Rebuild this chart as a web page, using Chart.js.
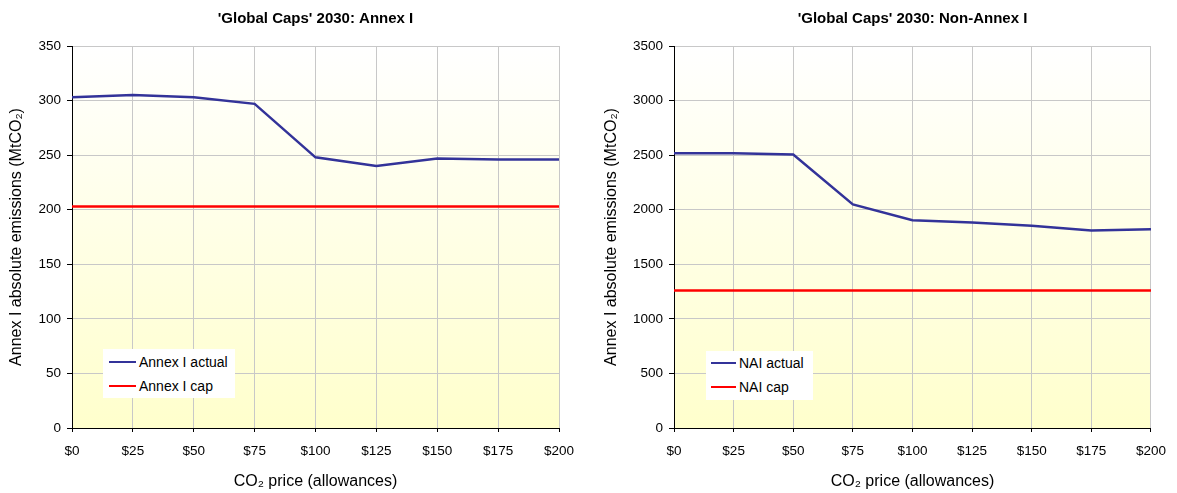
<!DOCTYPE html>
<html>
<head>
<meta charset="utf-8">
<script src="https://cdn.jsdelivr.net/npm/chart.js@4/dist/chart.umd.min.js"></script>
<style>
  body { margin: 0; background: #fff; }
  .wrap { position: absolute; top: 0; height: 493px; }
  .legend { position: absolute; background: #fff; font: 14px "Liberation Sans", Arial, sans-serif; color: #000; }
  .legend .row { position: absolute; left: 0; height: 16px; line-height: 16px; white-space: nowrap; }
  .legend .swatch { position: absolute; top: 7px; height: 2px; }
  .legend .txt { position: absolute; top: 0; }
</style>
</head>
<body>
<div class="wrap" id="leftWrap" style="left:0;width:588px">
  <canvas id="annex" width="588" height="493"></canvas>
</div>
<div class="wrap" id="rightWrap" style="left:588px;width:589px">
  <canvas id="nonannex" width="589" height="493"></canvas>
</div>
<script>
// CO2 price categories
const prices = ['$0', '$25', '$50', '$75', '$100', '$125', '$150', '$175', '$200']

// Annex I (MtCO2)
const annexActual = [303, 305, 303, 297, 248, 240, 247, 246, 246]
const annexCap = [203, 203, 203, 203, 203, 203, 203, 203, 203]

// Non-Annex I (MtCO2)
const naiActual = [2518, 2518, 2506, 2049, 1904, 1883, 1853, 1810, 1822]
const naiCap = [1260, 1260, 1260, 1260, 1260, 1260, 1260, 1260, 1260]

const BLUE = '#333399'
const RED = '#ff0000'
const FONT = '"Liberation Sans", Arial, sans-serif'

// yellow fade behind the plot area
const plotBg = {
    id: 'plotBg',
    beforeDraw(chart){
        const a = chart.chartArea
        const ctx = chart.ctx
        const g = ctx.createLinearGradient(0, a.top, 0, a.bottom)
        g.addColorStop(0, '#ffffff')
        g.addColorStop(1, '#ffffcc')
        ctx.save()
        ctx.fillStyle = g
        ctx.fillRect(a.left, a.top, a.right - a.left, a.bottom - a.top)
        ctx.restore()
    }
}

function makeChart(id, title, actual, cap, labels, yMax, yStep, yWidth, yTitlePad, padRight){
    return new Chart(document.getElementById(id).getContext('2d'), {
        type: 'line',
        data: {
            labels: prices,
            datasets: [
                {
                    label: labels[0],
                    data: actual,
                    borderColor: BLUE,
                    backgroundColor: BLUE,
                    borderWidth: 2.5,
                    pointRadius: 0,
                    tension: 0
                },
                {
                    label: labels[1],
                    data: cap,
                    borderColor: RED,
                    backgroundColor: RED,
                    borderWidth: 2.5,
                    pointRadius: 0,
                    tension: 0
                }
            ]
        },
        options: {
            responsive: false,
            animation: false,
            layout: { padding: { left: 0, right: padRight, top: 0, bottom: 0 } },
            plugins: {
                legend: { display: false },
                tooltip: { enabled: false },
                title: {
                    display: true,
                    text: title,
                    fullSize: false,
                    color: '#000',
                    font: { family: FONT, size: 15, weight: 'bold' },
                    padding: { top: 10, bottom: 18 }
                }
            },
            scales: {
                x: {
                    afterFit: s => { s.height = 65 },
                    grid: { color: '#c8c8c8', tickColor: '#000', tickLength: 4 },
                    border: { color: '#000', width: 1 },
                    ticks: { color: '#000', padding: 11, maxRotation: 0, autoSkip: false, font: { family: FONT, size: 13.5 } },
                    title: {
                        display: true,
                        text: 'CO₂ price (allowances)',
                        color: '#000',
                        font: { family: FONT, size: 16 },
                        padding: { top: 0, bottom: 2 }
                    }
                },
                y: {
                    min: 0,
                    max: yMax,
                    afterFit: s => { s.width = yWidth },
                    grid: { color: '#c8c8c8', tickColor: '#000', tickLength: 5 },
                    border: { color: '#000', width: 1 },
                    ticks: {
                        stepSize: yStep,
                        color: '#000',
                        padding: 6,
                        font: { family: FONT, size: 13.5 },
                        callback: v => String(v)
                    },
                    title: {
                        display: true,
                        text: 'Annex I absolute emissions (MtCO₂)',
                        color: '#000',
                        font: { family: FONT, size: 16 },
                        padding: { top: yTitlePad, bottom: 0 }
                    }
                }
            }
        },
        plugins: [plotBg]
    })
}

// legend box placed inside the plot, like the original
function addLegend(wrapId, chart, box){
    const wrap = document.getElementById(wrapId)
    const div = document.createElement('div')
    div.className = 'legend'
    div.style.left = box.x + 'px'
    div.style.top = box.y + 'px'
    div.style.width = box.w + 'px'
    div.style.height = box.h + 'px'
    chart.data.datasets.forEach((ds, i) => {
        const row = document.createElement('div')
        row.className = 'row'
        row.style.top = (box.rowTop + i * 24) + 'px'
        const sw = document.createElement('div')
        sw.className = 'swatch'
        sw.style.left = box.swX + 'px'
        sw.style.width = box.swW + 'px'
        sw.style.background = ds.borderColor
        const t = document.createElement('span')
        t.className = 'txt'
        t.style.left = (box.swX + box.swW + 3) + 'px'
        t.textContent = ds.label
        row.appendChild(sw)
        row.appendChild(t)
        div.appendChild(row)
    })
    wrap.appendChild(div)
}

const annexChart = makeChart('annex', "'Global Caps' 2030: Annex I", annexActual, annexCap,
    ['Annex I actual', 'Annex I cap'], 350, 50, 72, 7, 29)
const naiChart = makeChart('nonannex', "'Global Caps' 2030: Non-Annex I", naiActual, naiCap,
    ['NAI actual', 'NAI cap'], 3500, 500, 86, 14, 21)

addLegend('leftWrap', annexChart, { x: 103, y: 349, w: 132, h: 49, rowTop: 5, swX: 6, swW: 27 })
addLegend('rightWrap', naiChart, { x: 118, y: 351, w: 107, h: 49, rowTop: 4, swX: 5, swW: 25 })
</script>
</body>
</html>
